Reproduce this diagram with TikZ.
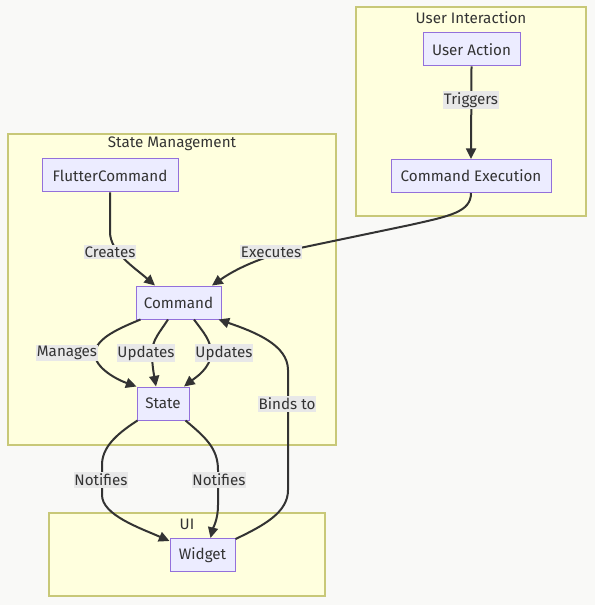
\documentclass[tikz,border=0pt]{standalone}
\usepackage{fontspec}
\setmainfont{Fira Sans}
\usetikzlibrary{arrows.meta,calc}
\definecolor{bgcol}{HTML}{F9F9F7}
\definecolor{clfill}{HTML}{FFFFDE}
\definecolor{cldraw}{HTML}{C8C878}
\definecolor{ndfill}{HTML}{ECECFF}
\definecolor{nddraw}{HTML}{9370DB}
\definecolor{lblfill}{HTML}{E8E8E8}
\definecolor{ink}{HTML}{333333}
\tikzset{
  txt/.style={font=\fontsize{11.4pt}{13pt}\selectfont},
  cluster/.style={draw=cldraw, fill=clfill, line width=0.9pt},
  cltitle/.style={text=ink, txt, inner sep=0pt},
  box/.style={draw=nddraw, fill=ndfill, line width=0.75pt, text=ink, inner sep=0pt,
    minimum height=24.75pt, txt},
  bw/.style={minimum width=#1*0.75pt},
  edge/.style={draw=ink, line width=1.5pt, -{Triangle[length=8pt,width=7.5pt]}},
  lbl/.style={fill=lblfill, text=ink, inner xsep=0.6pt, inner ysep=1.2pt, txt}
}
\begin{document}
\begin{tikzpicture}[x=0.75pt,y=-0.75pt]
  \fill[bgcol] (0,0) rectangle (595,605);
  \useasboundingbox (0,0) rectangle (595,605);

  % subgraph frames
  \draw[cluster] (356,7) rectangle (586,216);
  \node[cltitle] (tUser) at (471,18) {User Interaction};
  \draw[cluster] (8,134) rectangle (336,445);
  \node[cltitle] (tState) at (172,144) {State Management};
  \draw[cluster] (49,513) rectangle (325,596);
  \node[cltitle] (tUI) at (187,524) {UI};

  % nodes
  \node[box, bw=97]  (ua)  at (471.5,49.5) {User Action};
  \node[box, bw=160] (ce)  at (471,176)    {Command Execution};
  \node[box, bw=136] (fc)  at (110,175.5)  {FlutterCommand};
  \node[box, bw=85]  (cmd) at (178.5,302.5) {Command};
  \node[box, bw=52]  (st)  at (163,403.5)  {State};
  \node[box, bw=65]  (wg)  at (202.5,555)  {Widget};

  % connectors
  \draw[edge] (ua.south) -- (ce.north);
  \draw[edge] (fc.south) -- (110,232) .. controls (110,252) and (135,268) .. ($(cmd.north)+(-23.5,0)$);
  \draw[edge] (ce.south) .. controls (471,212) and (450,216) .. (410,225)
      -- (300,248) .. controls (268,255) and (240,266) .. ($(cmd.north)+(33.5,0)$);
  \draw[edge] ($(cmd.south west)+(5,0)$) .. controls (120,328) and (96,338) .. (95,353)
      .. controls (94,368) and (118,380) .. (st.north west);
  \draw[edge] ($(cmd.south)+(-10.5,0)$) .. controls (160,332) and (152,340) .. (152,353)
      .. controls (152,365) and (154,375) .. ($(st.north)+(-7,0)$);
  \draw[edge] ($(cmd.south)+(15.5,0)$) .. controls (203,332) and (211,340) .. (211,353)
      .. controls (211,368) and (195,378) .. ($(st.north)+(21,0)$);
  \draw[edge] ($(st.south west)+(1,0)$) .. controls (115,435) and (102,448) .. (102,465)
      -- (102,495) .. controls (102,515) and (140,528) .. ($(wg.north west)+(0,3)$);
  \draw[edge] ($(st.south east)+(-4,0)$) .. controls (205,437) and (218,448) .. (218,470)
      -- (218,505) .. controls (218,520) and (213,528) .. ($(wg.north)+(8,0)$);
  \draw[edge] ($(wg.north east)+(0,1)$) .. controls (265,525) and (288,512) .. (288,490)
      -- (288,370) .. controls (288,345) and (255,332) .. ($(cmd.south east)+(-3,0)$);

  % connector labels
  \node[lbl] (lTrig)  at (471,100) {Triggers};
  \node[lbl] (lCre)   at (110,252) {Creates};
  \node[lbl] (lExe)   at (271,252) {Executes};
  \node[lbl] (lMan)   at (67,353)  {Manages};
  \node[lbl] (lUpd1)  at (146,353) {Updates};
  \node[lbl] (lUpd2)  at (224,353) {Updates};
  \node[lbl] (lBind)  at (287,404) {Binds to};
  \node[lbl] (lNot1)  at (101,480) {Notifies};
  \node[lbl] (lNot2)  at (219,480) {Notifies};
\end{tikzpicture}
\end{document}
